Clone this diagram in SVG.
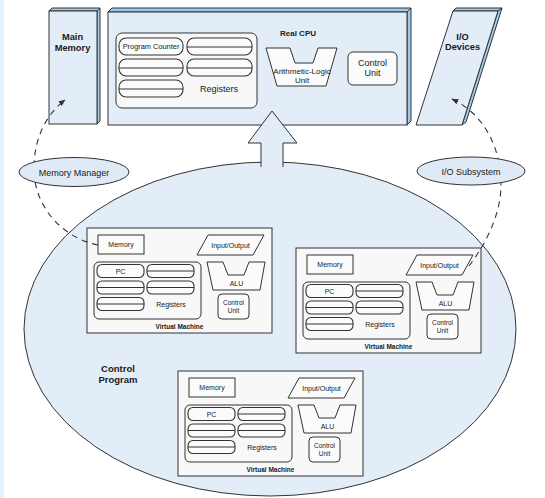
<svg xmlns="http://www.w3.org/2000/svg" width="545" height="498" viewBox="0 0 545 498">
<style>
.face{fill:#e2edf8;stroke:#333;stroke-width:1}
.side{fill:#9fcbeb;stroke:#333;stroke-width:1}
.box{fill:#f8f8f8;stroke:#333;stroke-width:1}
.wbox{fill:#fbfbfb;stroke:#333;stroke-width:1}
.pill{fill:#fbfbfb;stroke:#333;stroke-width:1.1}
.mid{stroke:#333;stroke-width:1}
.dash{fill:none;stroke:#333;stroke-width:1.1;stroke-dasharray:6 5}
.t{font-family:"Liberation Sans",Arial,Helvetica,sans-serif;fill:#1a1a1a;text-anchor:middle}
.b{font-weight:bold}
.s7{font-size:7px}
.s65{font-size:6.5px}
</style>
<defs>
<marker id="ah" viewBox="0 0 10 10" refX="9" refY="5" markerWidth="7" markerHeight="7" markerUnits="userSpaceOnUse" orient="auto">
<path d="M0,1 L10,5 L0,9 z" fill="#333"/>
</marker>
</defs>
<rect x="0" y="0" width="4" height="498" fill="#e4f2fc"/>

<g id="control-program">
<ellipse cx="270" cy="329" rx="246" ry="167" fill="#e2edf8" stroke="#333" stroke-width="1"/>
<text class="t b" x="118" y="372" font-size="9.5">Control</text>
<text class="t b" x="118" y="383" font-size="9.5">Program</text>
</g>

<g id="main-memory">
<polygon class="side" points="49,11 52,8 100,8 97,11"/>
<polygon class="side" points="97,11 100,8 100,121 97,124"/>
<rect class="face" x="49" y="11" width="48" height="113"/>
<text class="t b" x="72.5" y="40" font-size="9.3">Main</text>
<text class="t b" x="72.5" y="50.5" font-size="9.3">Memory</text>
</g>

<g id="real-cpu">
<polygon class="side" points="108,12 112,8 411,8 407,12"/>
<polygon class="side" points="407,12 411,8 411,121 407,125"/>
<rect class="face" x="108" y="12" width="299" height="113"/>
<text class="t b" x="298" y="36" font-size="8">Real CPU</text>
<rect x="116" y="33" width="141" height="75" rx="6" class="box"/>
<rect class="pill" x="119" y="38" width="64" height="17" rx="7"/>
<text class="t" x="151" y="49" font-size="7.4">Program Counter</text>
<rect class="pill" x="187" y="38" width="65" height="17" rx="7"/>
<line class="mid" x1="187" y1="47" x2="252" y2="47"/>
<rect class="pill" x="119" y="59" width="64" height="17" rx="7"/>
<line class="mid" x1="119" y1="68" x2="183" y2="68"/>
<rect class="pill" x="187" y="59" width="65" height="17" rx="7"/>
<line class="mid" x1="187" y1="68" x2="252" y2="68"/>
<rect class="pill" x="119" y="80" width="64" height="17" rx="7"/>
<line class="mid" x1="119" y1="89" x2="183" y2="89"/>
<text class="t" x="219" y="92" font-size="9">Registers</text>
<polygon class="wbox" points="266,48 290,48 295,63 313,63 318,48 337,48 326,86 277,86"/>
<text class="t" x="302" y="74" font-size="8">Arithmetic-Logic</text>
<text class="t" x="302" y="82.5" font-size="8">Unit</text>
<rect class="wbox" x="348" y="52" width="49" height="33" rx="5"/>
<text class="t" x="372.5" y="66" font-size="9">Control</text>
<text class="t" x="372.5" y="76" font-size="9">Unit</text>
</g>

<g id="io-devices">
<polygon class="side" points="453,11 456,8 502,8 498,11"/>
<polygon class="side" points="498,11 502,8 466,122 462,125"/>
<polygon class="face" points="453,11 498,11 462,125 416,125"/>
<text class="t b" x="462.5" y="39.5" font-size="9.3">I/O</text>
<text class="t b" x="462.5" y="50" font-size="9.3">Devices</text>
</g>

<g id="big-arrow">
<path d="M261,167 L261,143 L248,143 L272,111 L297,143 L283,143 L283,167" fill="#e2edf8" stroke="#333" stroke-width="1"/>
</g>

<g id="vm1" transform="translate(87,228)">
<rect class="box" x="0" y="0" width="185" height="105"/>
<rect class="wbox" x="11" y="7" width="46" height="19"/>
<text class="t s7" x="34" y="19">Memory</text>
<polygon class="wbox" points="121,7 177,7 166,27 110,27"/>
<text class="t s7" x="143.5" y="19.5">Input/Output</text>
<rect class="box" x="7" y="34" width="107" height="57" rx="5"/>
<rect class="pill" x="10" y="36.5" width="47" height="13" rx="5"/>
<text class="t s7" x="33.5" y="45.5">PC</text>
<rect class="pill" x="60" y="36.5" width="47" height="13" rx="5"/>
<line class="mid" x1="60" y1="43" x2="107" y2="43"/>
<rect class="pill" x="10" y="53" width="47" height="13" rx="5"/>
<line class="mid" x1="10" y1="59.5" x2="57" y2="59.5"/>
<rect class="pill" x="60" y="53" width="47" height="13" rx="5"/>
<line class="mid" x1="60" y1="59.5" x2="107" y2="59.5"/>
<rect class="pill" x="10" y="69.5" width="47" height="13" rx="5"/>
<line class="mid" x1="10" y1="76" x2="57" y2="76"/>
<text class="t s7" x="84" y="78.5" fill="#333">Registers</text>
<polygon class="wbox" points="120,34 136,34 141,47 157,47 162,34 178,34 173,62 126,62"/>
<text class="t s7" x="149.5" y="57.5">ALU</text>
<rect class="wbox" x="131" y="66" width="31" height="25" rx="4"/>
<text class="t s65" x="146.5" y="76.5">Control</text>
<text class="t s65" x="146.5" y="85">Unit</text>
<text class="t b s65" x="92.5" y="101">Virtual Machine</text>
</g>

<g id="vm2" transform="translate(296,248)">
<rect class="box" x="0" y="0" width="185" height="105"/>
<rect class="wbox" x="11" y="7" width="46" height="19"/>
<text class="t s7" x="34" y="19">Memory</text>
<polygon class="wbox" points="121,7 177,7 166,27 110,27"/>
<text class="t s7" x="143.5" y="19.5">Input/Output</text>
<rect class="box" x="7" y="34" width="107" height="57" rx="5"/>
<rect class="pill" x="10" y="36.5" width="47" height="13" rx="5"/>
<text class="t s7" x="33.5" y="45.5">PC</text>
<rect class="pill" x="60" y="36.5" width="47" height="13" rx="5"/>
<line class="mid" x1="60" y1="43" x2="107" y2="43"/>
<rect class="pill" x="10" y="53" width="47" height="13" rx="5"/>
<line class="mid" x1="10" y1="59.5" x2="57" y2="59.5"/>
<rect class="pill" x="60" y="53" width="47" height="13" rx="5"/>
<line class="mid" x1="60" y1="59.5" x2="107" y2="59.5"/>
<rect class="pill" x="10" y="69.5" width="47" height="13" rx="5"/>
<line class="mid" x1="10" y1="76" x2="57" y2="76"/>
<text class="t s7" x="84" y="78.5" fill="#333">Registers</text>
<polygon class="wbox" points="120,34 136,34 141,47 157,47 162,34 178,34 173,62 126,62"/>
<text class="t s7" x="149.5" y="57.5">ALU</text>
<rect class="wbox" x="131" y="66" width="31" height="25" rx="4"/>
<text class="t s65" x="146.5" y="76.5">Control</text>
<text class="t s65" x="146.5" y="85">Unit</text>
<text class="t b s65" x="92.5" y="101">Virtual Machine</text>
</g>

<g id="vm3" transform="translate(178,371)">
<rect class="box" x="0" y="0" width="185" height="105"/>
<rect class="wbox" x="11" y="7" width="46" height="19"/>
<text class="t s7" x="34" y="19">Memory</text>
<polygon class="wbox" points="121,7 177,7 166,27 110,27"/>
<text class="t s7" x="143.5" y="19.5">Input/Output</text>
<rect class="box" x="7" y="34" width="107" height="57" rx="5"/>
<rect class="pill" x="10" y="36.5" width="47" height="13" rx="5"/>
<text class="t s7" x="33.5" y="45.5">PC</text>
<rect class="pill" x="60" y="36.5" width="47" height="13" rx="5"/>
<line class="mid" x1="60" y1="43" x2="107" y2="43"/>
<rect class="pill" x="10" y="53" width="47" height="13" rx="5"/>
<line class="mid" x1="10" y1="59.5" x2="57" y2="59.5"/>
<rect class="pill" x="60" y="53" width="47" height="13" rx="5"/>
<line class="mid" x1="60" y1="59.5" x2="107" y2="59.5"/>
<rect class="pill" x="10" y="69.5" width="47" height="13" rx="5"/>
<line class="mid" x1="10" y1="76" x2="57" y2="76"/>
<text class="t s7" x="84" y="78.5" fill="#333">Registers</text>
<polygon class="wbox" points="120,34 136,34 141,47 157,47 162,34 178,34 173,62 126,62"/>
<text class="t s7" x="149.5" y="57.5">ALU</text>
<rect class="wbox" x="131" y="66" width="31" height="25" rx="4"/>
<text class="t s65" x="146.5" y="76.5">Control</text>
<text class="t s65" x="146.5" y="85">Unit</text>
<text class="t b s65" x="92.5" y="101">Virtual Machine</text>
</g>

<g id="connectors">
<path class="dash" d="M98,245 C62,238 32,205 34,165 C35,135 48,113 65,100" marker-end="url(#ah)"/>
<path class="dash" d="M469,266 C485,245 501,215 501,185 C501,145 482,113 452,99" marker-end="url(#ah)"/>
</g>

<g id="memory-manager">
<ellipse cx="74" cy="172" rx="55" ry="14.5" fill="#dfeaf6" stroke="#333" stroke-width="1"/>
<text class="t" x="74" y="175.5" font-size="9">Memory Manager</text>
</g>

<g id="io-subsystem">
<ellipse cx="471" cy="171" rx="54" ry="14" fill="#dfeaf6" stroke="#333" stroke-width="1"/>
<text class="t" x="471" y="174.5" font-size="9">I/O Subsystem</text>
</g>
</svg>
